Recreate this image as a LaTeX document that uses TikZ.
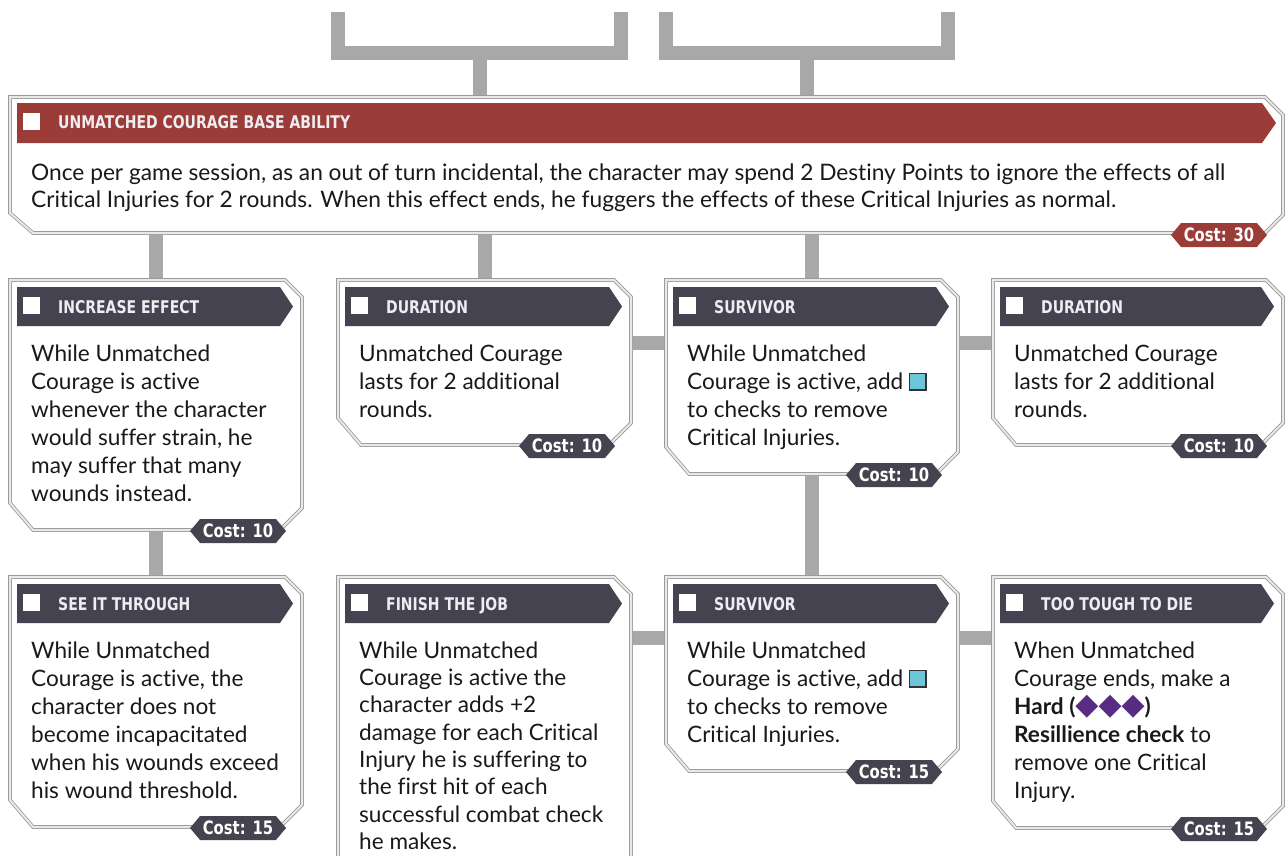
\documentclass[tikz,border=0pt]{standalone}
\usepackage{fontspec}
\setmainfont{Lato}[Ligatures=NoCommon]
\newfontfamily\hdrfont{DejaVu Sans}[FakeStretch=0.8]
\newfontfamily\symfont{DejaVu Sans}
\usetikzlibrary{calc,shapes.symbols}
\definecolor{hdrred}{RGB}{155,60,56}
\definecolor{hdrdark}{RGB}{69,67,80}
\definecolor{conngray}{RGB}{168,168,168}
\definecolor{framegray}{RGB}{155,155,155}
\definecolor{framelight}{RGB}{232,232,232}
\definecolor{boostcyan}{RGB}{108,198,216}
\definecolor{diffpurple}{RGB}{88,44,130}
\definecolor{hdrtextcol}{RGB}{238,238,242}
\pgfdeclarelayer{bg}
\pgfsetlayers{bg,main}
\tikzset{
  cardbox/.style={rectangle, draw=none, inner sep=0pt, outer sep=0pt},
  cardline/.style={fill=white, draw=framegray, line width=0.8pt, double=framelight, double distance=2pt, line join=miter},
  chk/.style={fill=white, draw=none, minimum size=17pt, inner sep=0pt},
  hdrtext/.style={anchor=base west, inner sep=0pt, text=hdrtextcol, font=\hdrfont\bfseries\fontsize{17.5}{20}\selectfont},
  body/.style={anchor=north west, inner sep=0pt, align=left, text=black!90, font=\fontsize{22.6}{28}\selectfont},
  costtag/.style={signal, signal to=west and east, signal pointer angle=100, minimum width=96pt, minimum height=24pt, inner sep=0pt, text=white, font=\hdrfont\bfseries\fontsize{18.5}{20}\selectfont},
  conn/.style={draw=conngray, line width=14pt},
}
\newcommand\boostdie{{\setlength{\fboxsep}{0pt}\setlength{\fboxrule}{1.3pt}\fcolorbox{black!80}{boostcyan}{\rule{0pt}{15pt}\hspace{15pt}}}}
\newcommand\diffdice{\textcolor{diffpurple}{\symfont\fontsize{30}{28}\selectfont ◆◆◆}}
% name, x, y, w, h, header colour, header text
\newcommand\skillcard[7]{%
  \node[cardbox, minimum width=#4pt, minimum height=#5pt] (#1) at ({#2+#4/2},{#3+#5/2}) {};
  \draw[cardline] (#1.north west) -- ($(#1.north east)+(-17,0)$) -- ($(#1.north east)+(0,17)$)
     -- ($(#1.south east)+(0,-22)$) -- ($(#1.south east)+(-22,0)$) -- ($(#1.south west)+(23,0)$)
     -- ($(#1.south west)+(0,-27)$) -- cycle;
  \fill[#6] ($(#1.north west)+(7,7)$) -- ($(#1.north east)+(-22,7)$) -- ($(#1.north east)+(-9,26.5)$)
     -- ($(#1.north east)+(-22,46)$) -- ($(#1.north west)+(7,46)$) -- cycle;
  \node[chk] (#1chk) at ($(#1.north west)+(21.5,25.5)$) {};
  \node[hdrtext] (#1hdr) at ($(#1.north west)+(48,33)$) {#7};
}
\newcommand\cardtext[2]{\node[body] (#1txt) at ($(#1.north west)+(21,61)$) {\rule{0pt}{20pt}#2};}
\newcommand\cardcost[3]{\node[costtag, fill=#3] (#1cost) at ($(#1.south east)+(-64,1)$) {#2};}

\begin{document}
\begin{tikzpicture}[x=1pt, y=-1pt]
\useasboundingbox (0,0) rectangle (1286,855);
\begin{pgfonlayer}{bg}
\fill[white] (0,0) rectangle (1286,855);
\end{pgfonlayer}
\clip (0,0) rectangle (1286,855);

% ---- base ability card ----
\node[cardbox, minimum width=1273pt, minimum height=136pt] (base) at (646.5,165) {};
\draw[cardline] (base.north west) -- ($(base.north east)+(-18,0)$) -- ($(base.north east)+(0,18)$)
   -- ($(base.south east)+(0,-18)$) -- ($(base.south east)+(-18,0)$) -- ($(base.south west)+(23,0)$)
   -- ($(base.south west)+(0,-20)$) -- cycle;
\fill[hdrred] ($(base.north west)+(7,6)$) -- ($(base.north east)+(-21,6)$) -- ($(base.north east)+(-7,26)$)
   -- ($(base.north east)+(-21,46)$) -- ($(base.north west)+(7,46)$) -- cycle;
\node[chk] (basechk) at ($(base.north west)+(21.5,24.5)$) {};
\node[hdrtext, font=\hdrfont\bfseries\fontsize{17.5}{20}\selectfont] (basehdr) at ($(base.north west)+(48,31.5)$) {UNMATCHED COURAGE BASE ABILITY};
\node[body, font=\fontsize{22.7}{27}\selectfont] (basetxt) at ($(base.north west)+(21,63)$)
  {\rule{0pt}{20pt}Once per game session, as an out of turn incidental, the character may spend 2 Destiny Points to ignore the effects of all\\
   Critical Injuries for 2 rounds. When this effect ends, he fuggers the effects of these Critical Injuries as normal.};
\node[costtag, fill=hdrred] (basecost) at ($(base.south east)+(-64,2)$) {Cost: 30};

% ---- row 1 ----
\skillcard{ie}{10}{280}{292}{250}{hdrdark}{INCREASE EFFECT}
\cardtext{ie}{While Unmatched\\Courage is active\\whenever the character\\would suffer strain, he\\may suffer that many\\wounds instead.}
\cardcost{ie}{Cost: 10}{hdrdark}

\skillcard{durA}{338}{280}{293}{165}{hdrdark}{DURATION}
\cardtext{durA}{Unmatched Courage\\lasts for 2 additional\\rounds.}
\cardcost{durA}{Cost: 10}{hdrdark}

\skillcard{survA}{666}{280}{292}{194}{hdrdark}{SURVIVOR}
\cardtext{survA}{While Unmatched\\Courage is active, add \boostdie\\to checks to remove\\Critical Injuries.}
\cardcost{survA}{Cost: 10}{hdrdark}

\skillcard{durB}{993}{280}{290}{165}{hdrdark}{DURATION}
\cardtext{durB}{Unmatched Courage\\lasts for 2 additional\\rounds.}
\cardcost{durB}{Cost: 10}{hdrdark}

% ---- row 2 ----
\skillcard{see}{10}{577}{292}{250}{hdrdark}{SEE IT THROUGH}
\cardtext{see}{While Unmatched\\Courage is active, the\\character does not\\become incapacitated\\when his wounds exceed\\his wound threshold.}
\cardcost{see}{Cost: 15}{hdrdark}

\skillcard{fin}{338}{577}{293}{330}{hdrdark}{FINISH THE JOB}
\node[body, font=\fontsize{22.6}{27.3}\selectfont] (fintxt) at ($(fin.north west)+(21,61)$) {\rule{0pt}{20pt}While Unmatched\\Courage is active the\\character adds +2\\damage for each Critical\\Injury he is suffering to\\the first hit of each\\successful combat check\\he makes.};

\skillcard{survB}{666}{577}{292}{194}{hdrdark}{SURVIVOR}
\cardtext{survB}{While Unmatched\\Courage is active, add \boostdie\\to checks to remove\\Critical Injuries.}
\cardcost{survB}{Cost: 15}{hdrdark}

\skillcard{tough}{993}{577}{290}{251}{hdrdark}{TOO TOUGH TO DIE}
\cardtext{tough}{When Unmatched\\Courage ends, make a\\\textbf{Hard (\diffdice)}\\\textbf{Resillience check} to\\remove one Critical\\Injury.}
\cardcost{tough}{Cost: 15}{hdrdark}

% ---- connectors ----
\begin{pgfonlayer}{bg}
\coordinate (ltopL) at (338,12);
\coordinate (ltopR) at (621,12);
\coordinate (ljoin) at (480,53);
\coordinate (rtopL) at (666,12);
\coordinate (rtopR) at (948,12);
\coordinate (rjoin) at (807,53);
\draw[conn] (ltopL) |- (ljoin) -| (ltopR);
\draw[conn] (ljoin) -- (ljoin |- base.north);
\draw[conn] (rtopL) |- (rjoin) -| (rtopR);
\draw[conn] (rjoin) -- (rjoin |- base.north);
\draw[conn] (base.south -| ie.north) -- (ie.north);
\draw[conn] (base.south -| durA.north) -- (durA.north);
\draw[conn] (base.south -| survA.north) -- (survA.north);
\draw[conn] (ie.south) -- (see.north);
\draw[conn] (survA.south) -- (survB.north);
\draw[conn] ($(durA.north east)+(0,63)$) -- ($(survA.north west)+(0,63)$);
\draw[conn] ($(survA.north east)+(0,63)$) -- ($(durB.north west)+(0,63)$);
\draw[conn] ($(fin.north east)+(0,61)$) -- ($(survB.north west)+(0,61)$);
\draw[conn] ($(survB.north east)+(0,61)$) -- ($(tough.north west)+(0,61)$);
\end{pgfonlayer}
\end{tikzpicture}
\end{document}
